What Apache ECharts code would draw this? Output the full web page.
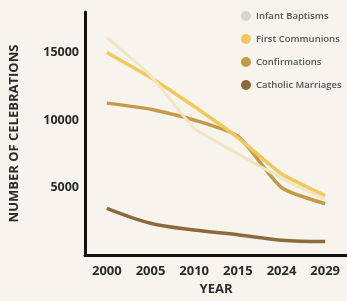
<!DOCTYPE html>
<html><head><meta charset="utf-8">
<script src="https://cdn.jsdelivr.net/npm/echarts@6/dist/echarts.min.js"></script>
<style>html,body{margin:0;padding:0;background:#f7f4ee;}#c{width:347px;height:301px;}</style>
</head><body><div id="c"></div>
<script>
const years = ['2000','2005','2010','2015','2024','2029'];
const infantBaptisms = [16100, 13300, 9400, 7500, 5700, 4100];
const firstCommunions = [15000, 13150, 11000, 8700, 6000, 4400];
const confirmations = [11250, 10800, 10000, 8800, 5000, 3800];
const catholicMarriages = [3450, 2350, 1850, 1500, 1100, 1000];
const seriesNames = ['Infant Baptisms','First Communions','Confirmations','Catholic Marriages'];
const colors = ['#f1e6c3','#f2c85c','#c39a48','#8b6b3c'];
const legendDot = ['#dcd7c9','#f2c85c','#c39a48','#8b6b3c'];
const dataSets = [infantBaptisms, firstCommunions, confirmations, catholicMarriages];
const smooths = [0.15, 0.1, 0.2, 0.35];
const widths = [3, 3.5, 3.5, 3.5];

const chart = echarts.init(document.getElementById('c'));
const font = 'Open Sans';
chart.setOption({
  backgroundColor: '#f7f4ee',
  animation: false,
  grid: {left: 84, right: -4, top: 12, bottom: 44},
  legend: {
    orient: 'vertical', left: 237, top: 7, itemGap: 13, padding: 4,
    icon: 'circle', itemWidth: 10, itemHeight: 10,
    data: seriesNames.map((n,i)=>({name:n, itemStyle:{color: legendDot[i]}})),
    textStyle: {fontFamily: font, fontSize: 9.5, fontWeight: 600, color: '#555'}
  },
  xAxis: {
    type: 'category', data: years, boundaryGap: true,
    name: 'YEAR', nameLocation: 'middle', nameGap: 28,
    nameTextStyle: {fontFamily: font, fontSize: 13, fontWeight: 'bold', color: '#2a2a2a'},
    axisLine: {lineStyle: {color: '#111', width: 3}},
    axisTick: {show: false},
    axisLabel: {fontFamily: font, fontSize: 13, fontWeight: 'bold', color: '#2a2a2a', margin: 10}
  },
  yAxis: {
    type: 'value', min: 0, max: 18000, interval: 5000,
    name: 'NUMBER OF CELEBRATIONS', nameLocation: 'middle', nameGap: 64, nameRotate: 90,
    nameTextStyle: {fontFamily: font, fontSize: 13, fontWeight: 'bold', color: '#2a2a2a'},
    axisLine: {show: true, lineStyle: {color: '#111', width: 3}},
    axisTick: {show: false},
    splitLine: {show: false},
    axisLabel: {fontFamily: font, fontSize: 12.5, fontWeight: 'bold', color: '#2a2a2a', margin: 6,
      showMinLabel: false, showMaxLabel: false, formatter: v => String(v)}
  },
  series: dataSets.map((d,i)=>({
    name: seriesNames[i], type: 'line', data: d, smooth: smooths[i],
    symbol: 'none', z: 10 - i,
    itemStyle: {color: colors[i]},
    lineStyle: {color: colors[i], width: widths[i]}
  }))
});
</script></body></html>
